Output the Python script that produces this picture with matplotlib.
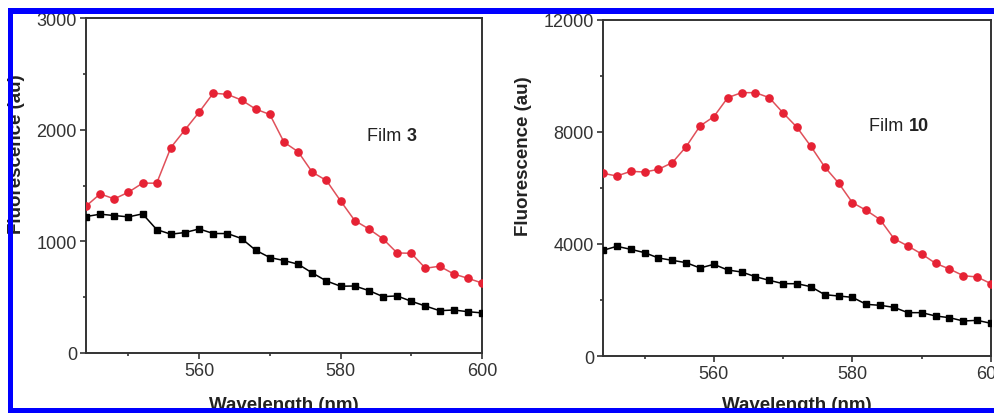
import matplotlib
matplotlib.use('Agg')
import matplotlib.pyplot as plt
from matplotlib.patches import Rectangle
from matplotlib.ticker import MultipleLocator

plt.rcParams['font.family'] = ['Liberation Sans', 'DejaVu Sans']

wavelength = list(range(544, 601, 2))

# Film 3
film3_red = [1315, 1425, 1380, 1440, 1521, 1521, 1840, 1999, 2157, 2327,
             2316, 2265, 2184, 2136, 1888, 1802, 1619, 1545, 1362, 1186,
             1111, 1022, 896, 893, 759, 777, 708, 669, 627]
film3_black = [1222, 1243, 1231, 1219, 1246, 1105, 1064, 1079, 1111, 1070,
               1070, 1025, 920, 855, 828, 795, 717, 645, 598, 600,
               559, 505, 511, 463, 421, 379, 385, 370, 359]

# Film 10
film10_red = [6524, 6429, 6595, 6571, 6667, 6905, 7476, 8214, 8548, 9226,
              9405, 9405, 9226, 8679, 8167, 7488, 6750, 6179, 5476, 5202,
              4869, 4190, 3929, 3643, 3310, 3107, 2869, 2821, 2583]
film10_black = [3774, 3917, 3810, 3691, 3500, 3417, 3333, 3143, 3274, 3071,
                3000, 2833, 2702, 2583, 2583, 2476, 2190, 2143, 2095, 1845,
                1810, 1738, 1548, 1548, 1429, 1369, 1250, 1274, 1167]

W, H = 995, 414
fig = plt.figure(figsize=(W / 100, H / 100), dpi=100)

red = '#e62234'
line_red = '#e0505a'
gray = '#333333'


def px_axes(left, top, right, bottom):
    return fig.add_axes([left / W, 1 - bottom / H, (right - left) / W, (bottom - top) / H])


def draw_panel(ax, red_vals, black_vals, ymax, ymajor, film_label, text_pos, ylab_x, xlab_y):
    ax.plot(wavelength, red_vals, color=line_red, lw=1.1, marker='o', ms=5.2,
            mfc=red, mec=red, zorder=3)
    ax.plot(wavelength, black_vals, color='black', lw=1.1, marker='s', ms=4.0,
            mfc='black', mec='black', zorder=3)
    ax.set_xlim(544, 600)
    ax.set_ylim(0, ymax)
    ax.xaxis.set_major_locator(MultipleLocator(20))
    ax.xaxis.set_minor_locator(MultipleLocator(10))
    ax.yaxis.set_major_locator(MultipleLocator(ymajor))
    ax.yaxis.set_minor_locator(MultipleLocator(ymajor / 2))
    for sp in ax.spines.values():
        sp.set_color(gray)
        sp.set_linewidth(1.4)
    ax.tick_params(which='major', direction='out', length=4.5, width=1.2,
                   color=gray, labelcolor=gray, labelsize=13, pad=2)
    ax.tick_params(which='minor', direction='out', length=2.5, width=1.2, color=gray)
    ax.set_ylabel('Fluorescence (au)', fontsize=13.5, fontweight='bold', color='#222222')
    ax.yaxis.set_label_coords(ylab_x, 0.597)
    ax.set_xlabel('Wavelength (nm)', fontsize=13.5, fontweight='bold', color='#222222',
                  va='top')
    ax.xaxis.set_label_coords(0.5, xlab_y)
    t = ax.text(text_pos[0], text_pos[1], 'Film ', transform=ax.transAxes,
                fontsize=13, color='#222222', va='center', ha='left')
    ax.annotate(film_label, xy=(1, 0.5), xycoords=t, va='center', ha='left',
                fontsize=13, fontweight='bold', color='#222222')


ax1 = px_axes(86, 19, 482, 354)
draw_panel(ax1, film3_red, film3_black, 3000, 1000, '3', (0.71, 0.648), -0.154, -0.128)

ax2 = px_axes(603, 21, 991, 357)
draw_panel(ax2, film10_red, film10_black, 12000, 4000, '10', (0.686, 0.685), -0.183, -0.119)

# blue frame (clipped on the right)
blue = '#0000ff'
for x0, y0, x1, y1 in [(8, 9, 995, 15), (8, 9, 13, 414), (8, 409, 995, 414)]:
    fig.add_artist(Rectangle((x0 / W, 1 - y1 / H), (x1 - x0) / W, (y1 - y0) / H,
                             transform=fig.transFigure, color=blue, lw=0, zorder=10))

fig.savefig('out.png', dpi=100)
